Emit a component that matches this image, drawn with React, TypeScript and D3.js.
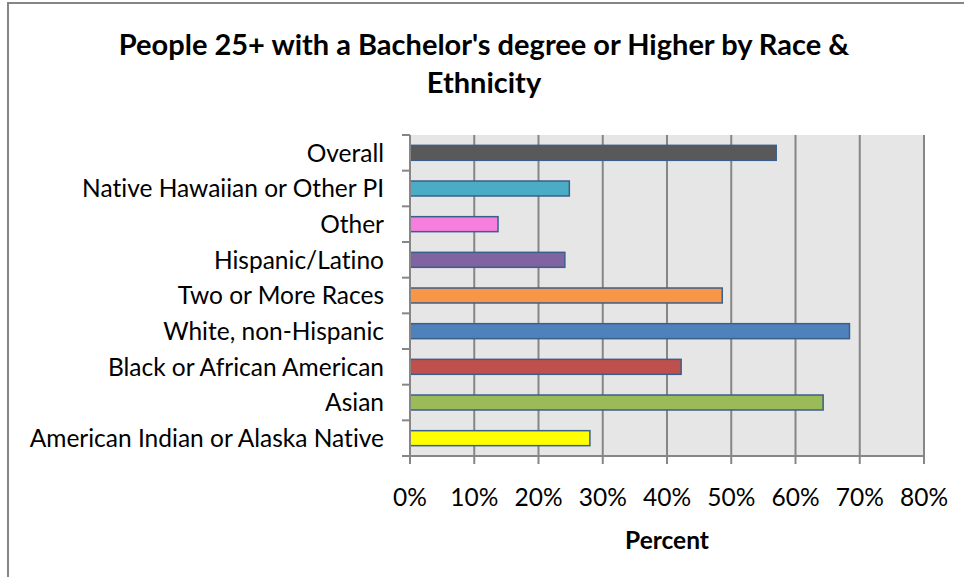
import * as d3 from "d3";
import React, { useEffect, useRef } from "react";

const categories = [
  "Overall",
  "Native Hawaiian or Other PI",
  "Other",
  "Hispanic/Latino",
  "Two or More Races",
  "White, non-Hispanic",
  "Black or African American",
  "Asian",
  "American Indian or Alaska Native",
];
const percents = [57.0, 24.8, 13.7, 24.1, 48.6, 68.4, 42.2, 64.3, 28.0];
const barColors = ["#595959", "#4BACC6", "#F57FDD", "#8064A2", "#F79646", "#4F81BD", "#C0504D", "#9BBB59", "#FFFF00"];
const xTicks = [0, 10, 20, 30, 40, 50, 60, 70, 80];

const W = 964;
const H = 577;
const FONT = "Lato, 'Noto Sans', sans-serif";

function drawChart(el: SVGSVGElement) {
  const svg = d3.select(el);
  svg.selectAll("*").remove();

  // plot area
  const margin = { top: 135, right: 40, bottom: 121, left: 410 };
  const x = d3.scaleLinear().domain([0, 80]).range([margin.left, W - margin.right]);
  const y = d3
    .scaleBand()
    .domain(categories)
    .range([margin.top, H - margin.bottom])
    .paddingInner(0.58)
    .paddingOuter(0.29);

  // outer chart border (right & bottom edges are cropped off)
  svg
    .append("rect")
    .attr("x", 8)
    .attr("y", 3)
    .attr("width", W + 10)
    .attr("height", H + 10)
    .attr("fill", "#fff")
    .attr("stroke", "#868686")
    .attr("stroke-width", 2);

  svg
    .append("rect")
    .attr("x", x(0))
    .attr("y", margin.top)
    .attr("width", x(80) - x(0))
    .attr("height", H - margin.bottom - margin.top)
    .attr("fill", "#E6E6E6");

  // vertical gridlines
  svg
    .append("g")
    .selectAll("line")
    .data(xTicks.slice(1))
    .join("line")
    .attr("x1", d => x(d))
    .attr("x2", d => x(d))
    .attr("y1", margin.top)
    .attr("y2", H - margin.bottom)
    .attr("stroke", "#868686")
    .attr("stroke-width", 2);

  // bars
  svg
    .append("g")
    .selectAll("rect")
    .data(categories)
    .join("rect")
    .attr("x", x(0))
    .attr("y", d => y(d)!)
    .attr("width", (d, i) => x(percents[i]) - x(0))
    .attr("height", y.bandwidth())
    .attr("fill", (d, i) => barColors[i])
    .attr("stroke", "#3A5F8B")
    .attr("stroke-width", 1.5);

  // axes lines
  const bottom = H - margin.bottom;
  svg
    .append("line")
    .attr("x1", x(0))
    .attr("x2", x(80))
    .attr("y1", bottom)
    .attr("y2", bottom)
    .attr("stroke", "#868686")
    .attr("stroke-width", 2);
  svg
    .append("line")
    .attr("x1", x(0))
    .attr("x2", x(0))
    .attr("y1", margin.top)
    .attr("y2", bottom)
    .attr("stroke", "#868686")
    .attr("stroke-width", 2);

  // left ticks at category boundaries
  svg
    .append("g")
    .selectAll("line")
    .data(d3.range(categories.length + 1))
    .join("line")
    .attr("x1", x(0) - 8)
    .attr("x2", x(0))
    .attr("y1", i => margin.top + i * y.step())
    .attr("y2", i => margin.top + i * y.step())
    .attr("stroke", "#868686")
    .attr("stroke-width", 2);

  // bottom ticks
  svg
    .append("g")
    .selectAll("line")
    .data(xTicks)
    .join("line")
    .attr("x1", d => x(d))
    .attr("x2", d => x(d))
    .attr("y1", bottom)
    .attr("y2", bottom + 8)
    .attr("stroke", "#868686")
    .attr("stroke-width", 2);

  // tick labels
  svg
    .append("g")
    .selectAll("text")
    .data(xTicks)
    .join("text")
    .attr("x", d => x(d))
    .attr("y", 506)
    .attr("text-anchor", "middle")
    .style("font-family", FONT)
    .style("font-size", "24.5px")
    .attr("fill", "#000")
    .text(d => `${d}%`);

  svg
    .append("g")
    .selectAll("text")
    .data(categories)
    .join("text")
    .attr("x", 384)
    .attr("y", d => y(d)! + y.bandwidth() / 2)
    .attr("dy", "0.36em")
    .attr("text-anchor", "end")
    .style("font-family", FONT)
    .style("font-size", "24.5px")
    .style("font-variant-ligatures", "none")
    .attr("fill", "#000")
    .text(d => d);

  // axis title
  svg
    .append("text")
    .attr("x", (x(0) + x(80)) / 2)
    .attr("y", 549)
    .attr("text-anchor", "middle")
    .style("font-family", FONT)
    .style("font-size", "24.5px")
    .style("font-weight", "bold")
    .text("Percent");

  // chart title
  const title = svg
    .append("text")
    .attr("text-anchor", "middle")
    .style("font-family", FONT)
    .style("font-size", "29px")
    .style("font-weight", "bold")
    .style("font-variant-ligatures", "none");
  title.append("tspan").attr("x", 484).attr("y", 55).text("People 25+ with a Bachelor's degree or Higher by Race &");
  title.append("tspan").attr("x", 484).attr("y", 93).text("Ethnicity");
}

export default function App() {
  const ref = useRef<SVGSVGElement>(null);

  useEffect(() => {
    if (ref.current) drawChart(ref.current);
  }, []);

  return (
    <svg
      ref={ref}
      width={W}
      height={H}
      style={{ position: "absolute", left: 0, top: 0, background: "#fff" }}
    />
  );
}
